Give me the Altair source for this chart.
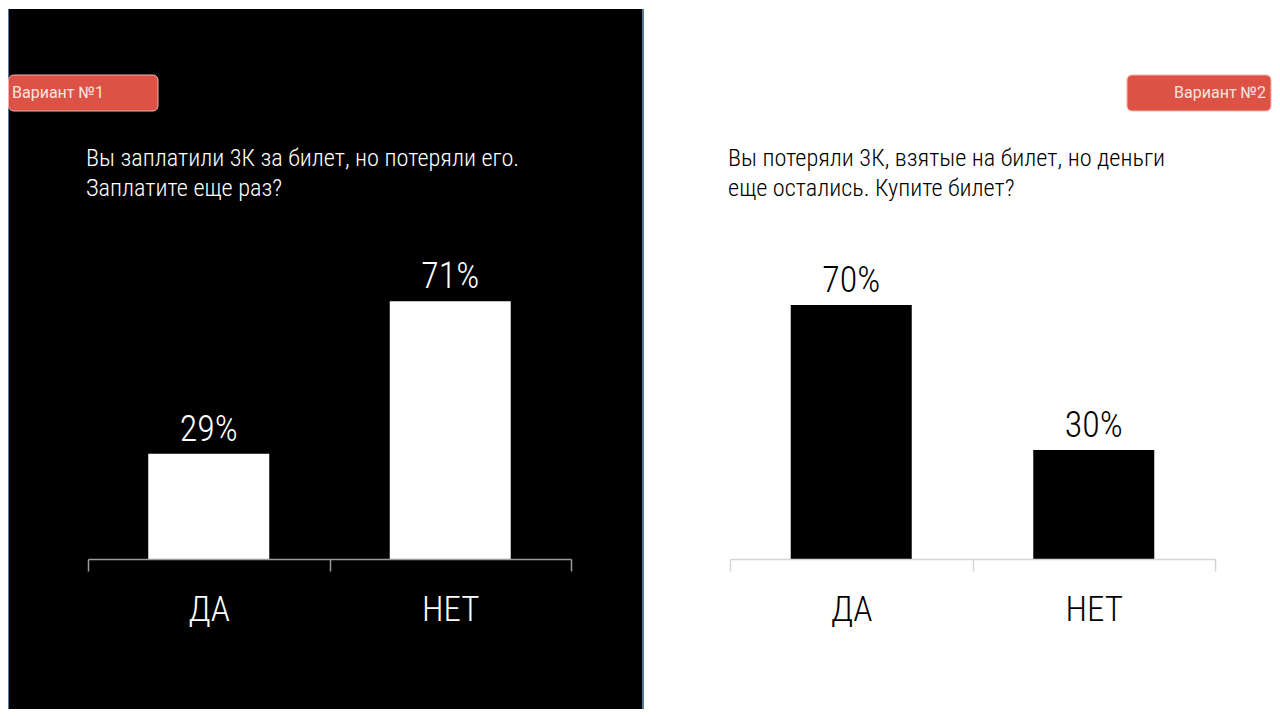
import altair as alt
import pandas as pd

categories = ["ДА", "НЕТ"]
values_v1 = [29, 71]
values_v2 = [70, 30]
badge_v1 = "Вариант №1"
badge_v2 = "Вариант №2"
question_v1 = ["Вы заплатили 3К за билет, но потеряли его.", "Заплатите еще раз?"]
question_v2 = ["Вы потеряли 3К, взятые на билет, но деньги", "еще остались. Купите билет?"]

FONT = "Roboto Condensed, Liberation Sans Narrow, DejaVu Sans Condensed, sans-serif"
W1, W2, H = 483, 485, 363
RED = "#dc5246"

one = pd.DataFrame({"k": [0]})


def panel(values, width, fg, axis_col, question, badge, badge_x, badge_x2, badge_text_x, badge_align, dark):
    df = pd.DataFrame({"cat": categories, "val": values,
                       "lab": [f"{v}%" for v in values]})
    x = alt.X("cat:N", sort=categories, title=None,
              scale=alt.Scale(paddingInner=0, paddingOuter=0),
              axis=alt.Axis(labelAngle=0, labelFontSize=35, labelFont=FONT,
                            labelFontWeight=300, labelColor=fg,
                            domainColor=axis_col, tickColor=axis_col,
                            domainWidth=1.5, tickWidth=1.5, tickSize=12,
                            tickBand="extent", labelPadding=21, grid=False,
                            zindex=1))
    y = alt.Y("val:Q", scale=alt.Scale(domain=[0, 100]), axis=None)
    base = alt.Chart(df).encode(x=x, y=y)
    bars = base.mark_bar(size=121, color=fg)
    labels = base.mark_text(baseline="alphabetic", dy=-13, fontSize=36,
                            font=FONT, fontWeight=300, color=fg).encode(text="lab:N")
    layers = []
    if dark:
        bg = alt.Chart(one).mark_rect(color="black").encode(
            x=alt.value(-80), x2=alt.value(555), y=alt.value(-187), y2=alt.value(513))
        edge_r = alt.Chart(one).mark_rule(color="#56789c", strokeWidth=2).encode(
            x=alt.value(555), y=alt.value(-187), y2=alt.value(513))
        edge_l = alt.Chart(one).mark_rule(color="#56789c", strokeWidth=1).encode(
            x=alt.value(-79.5), y=alt.value(-187), y2=alt.value(513))
        layers += [bg, edge_r, edge_l]
    badge_rect = alt.Chart(one).mark_rect(color=RED, cornerRadius=5,
                                          stroke="#f3b3aa", strokeWidth=1).encode(
        x=alt.value(badge_x), x2=alt.value(badge_x2), y=alt.value(-121), y2=alt.value(-85))
    badge_lbl = alt.Chart(one).mark_text(align=badge_align, baseline="middle",
                                         fontSize=16, font="Roboto",
                                         color="#fde3de").encode(
        x=alt.value(badge_text_x), y=alt.value(-103), text=alt.value(badge))
    q = alt.Chart(one).mark_text(align="left", baseline="alphabetic", fontSize=24.3,
                                 font=FONT, fontWeight=300, color=fg,
                                 lineHeight=30).encode(
        x=alt.value(-2), y=alt.value(-30), text=alt.value(question))
    layers += [badge_rect, badge_lbl, q, bars, labels]
    return alt.layer(*layers).properties(width=width, height=H)


left = panel(values_v1, W1, "white", "#9a9a9a", question_v1, badge_v1,
             -79.5, 70, -76, "left", True)
right = panel(values_v2, W2, "black", "#d4d4d4", question_v2, badge_v2,
              397, 541, 536, "right", False)

chart = alt.hconcat(left, right, spacing=159, bounds="flush", padding=0,
                    background="white").configure_view(strokeWidth=0)

chart.save("out.html", embed_options={"renderer": "svg", "actions": False})
